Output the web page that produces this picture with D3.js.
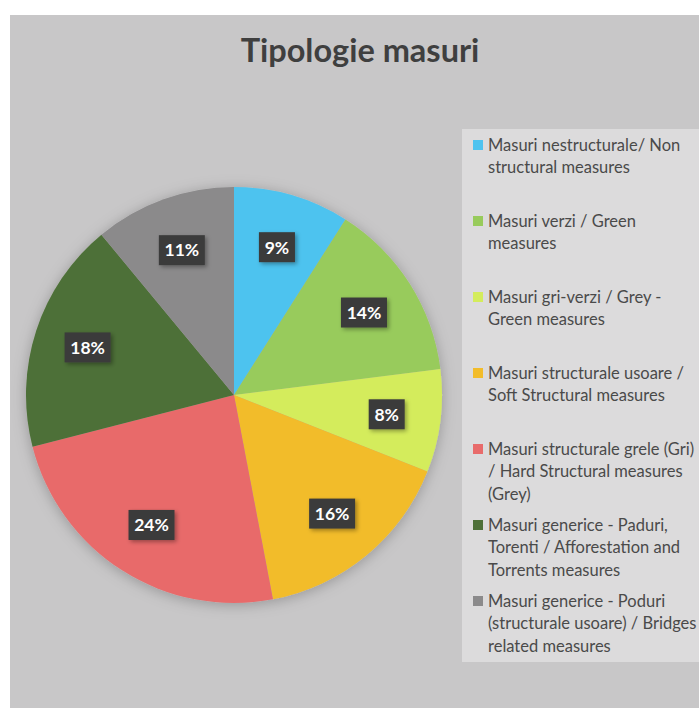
<!DOCTYPE html>
<html>
<head>
<meta charset="utf-8">
<script src="https://cdn.jsdelivr.net/npm/d3@7"></script>
<style>
  body { margin: 0; background: #fff; }
  svg { display: block; }
</style>
</head>
<body>
<svg width="699" height="708"></svg>
<script>
var width = 699;
var height = 708;

// chart values (percent shares as labelled)
var title = 'Tipologie masuri';
var categories = [
  ['Masuri nestructurale/ Non', 'structural measures'],
  ['Masuri verzi / Green', 'measures'],
  ['Masuri gri-verzi / Grey -', 'Green measures'],
  ['Masuri structurale usoare /', 'Soft Structural measures'],
  ['Masuri structurale grele (Gri)', '/ Hard Structural measures', '(Grey)'],
  ['Masuri generice - Paduri,', 'Torenti / Afforestation and', 'Torrents measures'],
  ['Masuri generice - Poduri', '(structurale usoare) / Bridges', 'related measures']
];
var values = [9, 14, 8, 16, 24, 18, 11];
var colors = ['#4ec3ef', '#98cb5c', '#d4ec5c', '#f2bc2a', '#e86b6b', '#4e7038', '#8b8a8b'];

var svg = d3.select('svg');

// drop shadows
var defs = svg.append('defs');
var pieShadow = defs.append('filter').attr('id', 'pieShadow')
  .attr('x', '-20%').attr('y', '-20%').attr('width', '140%').attr('height', '140%');
pieShadow.append('feDropShadow')
  .attr('dx', 0).attr('dy', 2).attr('stdDeviation', 7)
  .attr('flood-color', '#000').attr('flood-opacity', 0.25);
var boxShadow = defs.append('filter').attr('id', 'boxShadow')
  .attr('x', '-30%').attr('y', '-30%').attr('width', '160%').attr('height', '160%');
boxShadow.append('feDropShadow')
  .attr('dx', 2).attr('dy', 2).attr('stdDeviation', 2)
  .attr('flood-color', '#000').attr('flood-opacity', 0.35);

// chart area background
svg.append('rect')
  .attr('x', 10).attr('y', 15)
  .attr('width', width - 10).attr('height', height - 15)
  .attr('fill', '#c8c7c8');

svg.append('text')
  .attr('x', 360).attr('y', 62)
  .attr('text-anchor', 'middle')
  .attr('font-family', 'Lato, "Open Sans", sans-serif')
  .attr('font-weight', 'bold')
  .attr('font-size', 32.5)
  .attr('fill', '#3f3f3f')
  .text(title);

// pie -------------------------------------------------------------
var cx = 234, cy = 395, radius = 208;
var pie = d3.pie().sort(null).value(d => d);
var arcs = pie(values);
var arc = d3.arc().innerRadius(0).outerRadius(radius);
var labelArc = d3.arc().innerRadius(radius * 0.74).outerRadius(radius * 0.74);
var total = d3.sum(values);
var pct = d => Math.round(d.data / total * 100);

var g = svg.append('g').attr('transform', 'translate(' + [cx, cy] + ')');
g.append('g').attr('filter', 'url(#pieShadow)')
  .selectAll('path')
  .data(arcs)
  .enter().append('path')
  .attr('d', arc)
  .attr('fill', (d, i) => colors[i]);

var labels = g.selectAll('.lbl')
  .data(arcs)
  .enter().append('g')
  .attr('class', 'lbl')
  .attr('transform', d => 'translate(' + labelArc.centroid(d) + ')');
labels.append('rect')
  .attr('x', d => pct(d) >= 10 ? -23 : -18)
  .attr('y', -15)
  .attr('width', d => pct(d) >= 10 ? 46 : 36)
  .attr('height', 30)
  .attr('fill', '#3b3b3b')
  .attr('filter', 'url(#boxShadow)');
labels.append('text')
  .attr('text-anchor', 'middle')
  .attr('dy', '0.36em')
  .attr('font-family', 'Lato, "Open Sans", sans-serif')
  .attr('font-weight', 'bold')
  .attr('font-size', 17.5)
  .attr('fill', '#ffffff')
  .text(d => pct(d) + '%');

// legend ----------------------------------------------------------
svg.append('rect')
  .attr('x', 462).attr('y', 129)
  .attr('width', width - 462).attr('height', 533)
  .attr('fill', '#dcdbdc');

var legendY = d3.scaleLinear().domain([0, categories.length - 1]).range([145, 601]);
var legend = svg.selectAll('.leg')
  .data(categories)
  .enter().append('g')
  .attr('class', 'leg')
  .attr('transform', (d, i) => 'translate(' + [473, legendY(i)] + ')');
legend.append('rect')
  .attr('x', 0).attr('y', -5)
  .attr('width', 10).attr('height', 10)
  .attr('fill', (d, i) => colors[i]);
legend.append('text')
  .attr('font-family', 'Lato, "Open Sans", sans-serif')
  .attr('font-size', 16.5)
  .attr('fill', '#4a4a4a')
  .selectAll('tspan')
  .data(d => d)
  .enter().append('tspan')
  .attr('x', 15)
  .attr('y', (d, i) => i * 22.5)
  .attr('dy', '0.35em')
  .text(d => d);
</script>
</body>
</html>
